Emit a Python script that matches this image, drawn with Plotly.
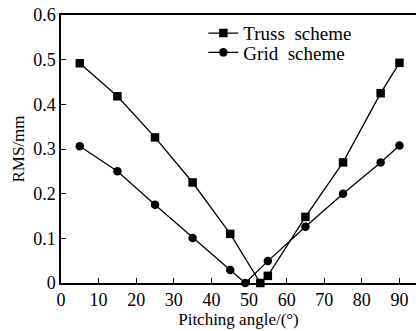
import plotly.graph_objects as go

truss_x = [5, 15, 25, 35, 45, 53, 55, 65, 75, 85, 90]
truss_y = [0.492, 0.418, 0.326, 0.225, 0.11, 0.0, 0.016, 0.148, 0.27, 0.425, 0.493]
grid_x = [5, 15, 25, 35, 45, 49, 55, 65, 75, 85, 90]
grid_y = [0.306, 0.25, 0.175, 0.101, 0.029, 0.0, 0.049, 0.126, 0.2, 0.27, 0.308]
x_ticks = [0, 10, 20, 30, 40, 50, 60, 70, 80, 90]
y_ticks = [0, 0.1, 0.2, 0.3, 0.4, 0.5, 0.6]
y_tick_text = ["0", "0.1", "0.2", "0.3", "0.4", "0.5", "0.6"]

font = "Liberation Serif, Times New Roman, serif"

fig = go.Figure()
fig.add_trace(go.Scatter(x=truss_x, y=truss_y, mode="lines+markers", name="Truss\u00a0\u00a0scheme",
                         line=dict(color="black", width=1.3), cliponaxis=False, legend="legend",
                         marker=dict(symbol="square", size=8.5, color="black")))
fig.add_trace(go.Scatter(x=grid_x, y=grid_y, mode="lines+markers", name="Grid\u00a0\u00a0scheme",
                         line=dict(color="black", width=1.3), cliponaxis=False, legend="legend2",
                         marker=dict(symbol="circle", size=8.5, color="black")))

leg_common = dict(x=0.401, xanchor="left", yanchor="middle", bgcolor="rgba(0,0,0,0)",
                  font=dict(family=font, size=19, color="black"), itemwidth=30)

fig.update_layout(
    width=416, height=331,
    margin=dict(l=61, r=0, t=15, b=48, autoexpand=False),
    paper_bgcolor="white", plot_bgcolor="white",
    font=dict(family=font, size=17, color="black"),
    showlegend=True,
    legend=dict(y=0.932, **leg_common),
    legend2=dict(y=0.860, **leg_common),
    xaxis=dict(range=[0, 94.4], tickvals=x_ticks, ticks="inside", ticklen=5, tickcolor="black",
               showline=True, linecolor="black", linewidth=1.5, mirror=True, showgrid=False,
               zeroline=False, automargin=False,
               title=dict(text="Pitching angle/(°)", standoff=0, font=dict(family=font, size=17, color="black")),
               tickfont=dict(family=font, size=18, color="black")),
    yaxis=dict(range=[0, 0.6], tickvals=y_ticks, ticktext=y_tick_text, ticks="inside", ticklen=5,
               tickcolor="black", showline=True, linecolor="black", linewidth=1.5, showgrid=False,
               zeroline=False, automargin=False,
               title=dict(text="RMS/mm", standoff=4, font=dict(family=font, size=17, color="black")),
               tickfont=dict(family=font, size=18, color="black")),
)

fig.write_html("out.html", config={"displayModeBar": False},
               post_script="document.body.style.margin='0';document.body.style.overflow='hidden';")
